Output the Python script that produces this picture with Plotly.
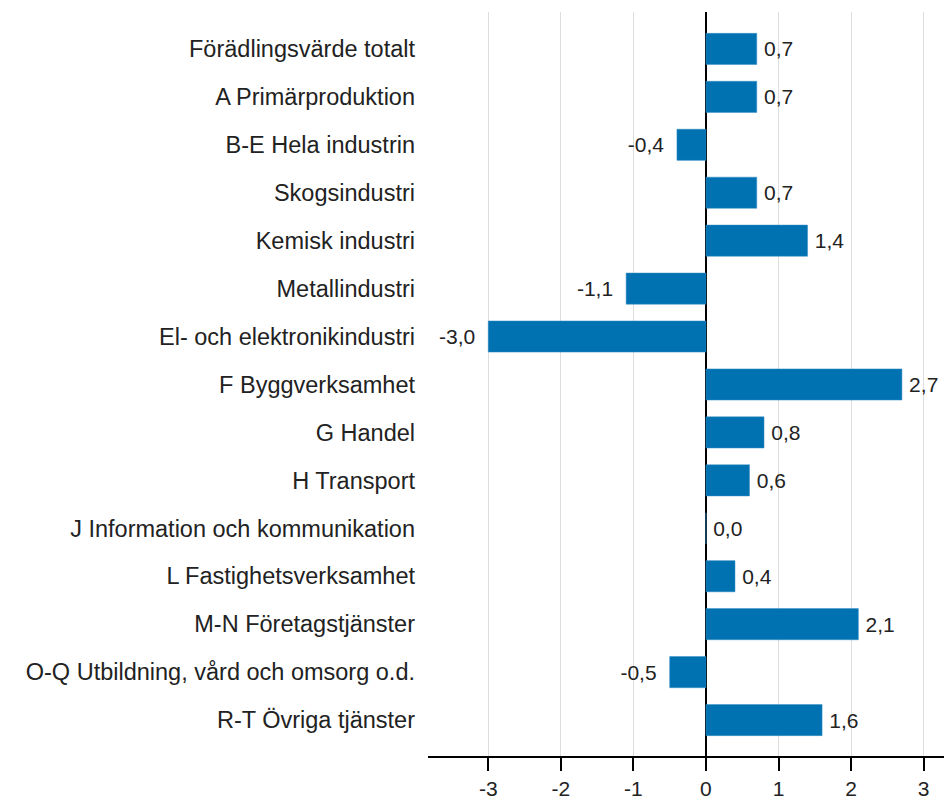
import plotly.graph_objects as go

categories = [
    "Förädlingsvärde totalt",
    "A Primärproduktion",
    "B-E Hela industrin",
    "Skogsindustri",
    "Kemisk industri",
    "Metallindustri",
    "El- och elektronikindustri",
    "F Byggverksamhet",
    "G Handel",
    "H Transport",
    "J Information och kommunikation",
    "L Fastighetsverksamhet",
    "M-N Företagstjänster",
    "O-Q Utbildning, vård och omsorg o.d.",
    "R-T Övriga tjänster",
]
values = [0.7, 0.7, -0.4, 0.7, 1.4, -1.1, -3.0, 2.7, 0.8, 0.6, 0.0, 0.4, 2.1, -0.5, 1.6]
tick_vals = [-3, -2, -1, 0, 1, 2, 3]
tick_text = ["-3", "-2", "-1", "0", "1", "2", "3"]

NB = "\u00a0"
TH = "\u2009"
labels = [
    (TH + f"{v:.1f}".replace(".", ",")) if v >= 0 else (f"{v:.1f}".replace(".", ",") + NB + TH)
    for v in values
]

FONT = "Liberation Sans, Arial, sans-serif"
CAT_SIZE = 23.5
NUM_SIZE = 21

fig = go.Figure(go.Bar(
    x=values, y=categories, orientation="h",
    marker=dict(color="#0072B2", line=dict(color="#3a8fc4", width=0.5)),
    width=0.65,
    text=labels, textposition="outside", cliponaxis=False,
    textfont=dict(family=FONT, size=NUM_SIZE, color="#222222"),
))

fig.update_layout(
    width=944, height=801,
    margin=dict(l=428, r=0, t=12, b=45, autoexpand=False),
    plot_bgcolor="white", paper_bgcolor="white",
    font=dict(family=FONT, size=NUM_SIZE, color="#222222"),
    showlegend=False,
)
fig.update_xaxes(
    range=[-3.83, 3.28], automargin=False,
    tickvals=tick_vals, ticktext=tick_text,
    showgrid=True, gridcolor="#dddddd", gridwidth=1,
    zeroline=True, zerolinecolor="#000000", zerolinewidth=1.5,
    showline=True, linecolor="#000000", linewidth=1.5,
    ticks="outside", ticklen=13, tickcolor="#000000", tickwidth=1.5,
    tickfont=dict(family=FONT, size=NUM_SIZE, color="#222222"),
)
fig.update_yaxes(
    autorange=False, range=[14.75, -0.77], automargin=False,
    showgrid=False, zeroline=False, showline=False,
    ticks="", ticklabelstandoff=12,
    tickfont=dict(family=FONT, size=CAT_SIZE, color="#222222"),
)

fig.write_html(
    "out.html",
    config={"displayModeBar": False},
    post_script="document.body.style.margin='0';document.body.style.overflow='hidden';",
)
